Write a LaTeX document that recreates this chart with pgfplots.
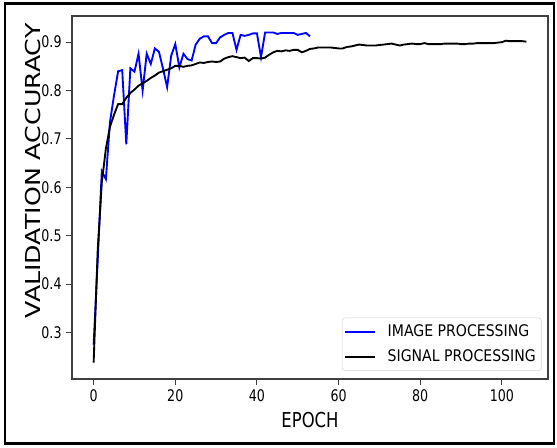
\documentclass[border=0pt]{standalone}
\usepackage{pgfplots}
\pgfplotsset{compat=1.18}
\usepackage{fontspec}
\setmainfont{DejaVu Sans}
\newfontfamily\tickfont{DejaVu Sans}[FakeStretch=0.79]
\newfontfamily\labfont{DejaVu Sans}[FakeStretch=0.8]
\newfontfamily\ylabfont{DejaVu Sans}[FakeStretch=1.23]
\newfontfamily\legfont{DejaVu Sans}[FakeStretch=0.88]

\pgfplotstableread{
epoch acc
0 0.275
1 0.45
2 0.633
3 0.617
4 0.735
5 0.79
6 0.84
7 0.842
8 0.689
9 0.846
10 0.839
11 0.876
12 0.80
13 0.876
14 0.855
15 0.887
16 0.88
17 0.845
18 0.807
19 0.872
20 0.896
21 0.848
22 0.876
23 0.865
24 0.862
25 0.895
26 0.907
27 0.912
28 0.912
29 0.898
30 0.898
31 0.91
32 0.915
33 0.919
34 0.919
35 0.884
36 0.915
37 0.913
38 0.915
39 0.918
40 0.918
41 0.869
42 0.92
43 0.92
44 0.92
45 0.917
46 0.919
47 0.919
48 0.919
49 0.919
50 0.915
51 0.917
52 0.919
53 0.912
}\imagedata

\pgfplotstableread{
epoch acc
0 0.238
1 0.47
2 0.61
3 0.68
4 0.725
5 0.75
6 0.772
7 0.772
8 0.785
9 0.795
10 0.802
11 0.81
12 0.815
13 0.82
14 0.826
15 0.831
16 0.837
17 0.84
18 0.843
19 0.846
20 0.851
21 0.851
22 0.849
23 0.851
24 0.852
25 0.855
26 0.858
27 0.857
28 0.859
29 0.86
30 0.859
31 0.86
32 0.866
33 0.869
34 0.871
35 0.869
36 0.867
37 0.868
38 0.861
39 0.867
40 0.867
41 0.866
42 0.868
43 0.874
44 0.879
45 0.882
46 0.881
47 0.883
48 0.882
49 0.884
50 0.884
51 0.879
52 0.882
53 0.886
54 0.887
55 0.889
56 0.889
57 0.889
58 0.889
59 0.888
60 0.887
61 0.887
62 0.89
63 0.891
64 0.893
65 0.895
66 0.894
67 0.893
68 0.893
69 0.893
70 0.894
71 0.895
72 0.896
73 0.897
74 0.895
75 0.893
76 0.895
77 0.896
78 0.897
79 0.896
80 0.896
81 0.898
82 0.896
83 0.896
84 0.896
85 0.896
86 0.897
87 0.897
88 0.897
89 0.897
90 0.896
91 0.896
92 0.897
93 0.897
94 0.898
95 0.898
96 0.898
97 0.898
98 0.898
99 0.899
100 0.900
101 0.903
102 0.902
103 0.902
104 0.902
105 0.902
106 0.901
}\signaldata

\begin{document}
\begin{tikzpicture}
% page size and outer frame (1px = 0.75pt)
\path (0pt,0pt) rectangle (417.75pt,335.25pt);
\draw[line width=2.2pt] (3.75pt,2.4pt) rectangle (415.5pt,332.4pt);

\begin{axis}[
    at={(54pt,51pt)}, anchor=south west,
    scale only axis,
    width=357pt, height=272.25pt,
    xmin=-5.3, xmax=111.3,
    ymin=0.204, ymax=0.954,
    xtick={0,20,40,60,80,100},
    ytick={0.3,0.4,0.5,0.6,0.7,0.8,0.9},
    yticklabel style={/pgf/number format/fixed,/pgf/number format/precision=1},
    /pgf/number format/assume math mode=true,
    tick align=outside,
    major tick length=4.3pt,
    xtick pos=bottom, ytick pos=left,
    axis line style={black!75, line width=0.8pt},
    tick style={black!75, line width=0.8pt},
    tick label style={font=\tickfont\fontsize{12pt}{14pt}\selectfont},
    xlabel={EPOCH},
    ylabel={VALIDATION ACCURACY},
    xlabel style={font=\labfont\fontsize{15.4pt}{18pt}\selectfont,
        at={(axis description cs:0.5,0)}, anchor=center, yshift=-31.1pt},
    ylabel style={font=\ylabfont\fontsize{15.4pt}{18pt}\selectfont,
        at={(axis description cs:0,0.573)}, anchor=center, yshift=29.6pt},
    legend style={at={(axis description cs:1,0)}, anchor=south east,
        xshift=-4.7pt, yshift=6.2pt,
        draw=black!18, rounded corners=2pt, fill=white,
        inner xsep=0pt, inner ysep=1pt,
        font=\legfont\fontsize{12pt}{14pt}\selectfont,
        nodes={inner xsep=4.3pt, inner ysep=3.6pt, text height=9pt, text depth=2.5pt}},
    legend cell align=left,
    legend image code/.code={%
        \path (-1.5pt,0pt) (27pt,0pt);
        \draw[#1] (0pt,0pt) -- (22.5pt,0pt);},
]
\addplot[blue, line width=1.4pt] table[x=epoch,y=acc] {\imagedata};
\addlegendentry{IMAGE PROCESSING}
\addplot[black, line width=1.4pt] table[x=epoch,y=acc] {\signaldata};
\addlegendentry{SIGNAL PROCESSING}
\end{axis}
\end{tikzpicture}
\end{document}
